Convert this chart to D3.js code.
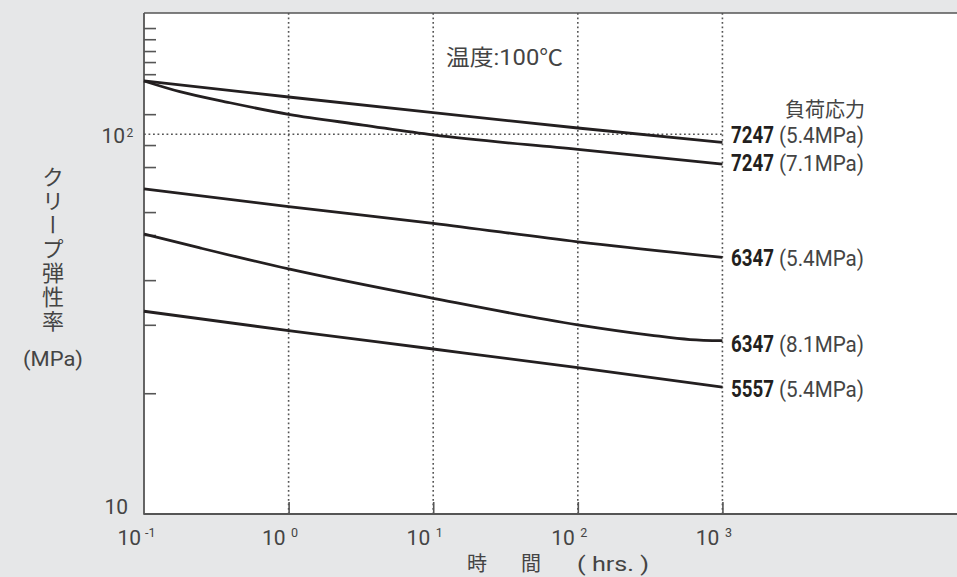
<!DOCTYPE html>
<html>
<head>
<meta charset="utf-8">
<script src="https://cdn.jsdelivr.net/npm/d3@7/dist/d3.min.js"></script>
<style>
  html, body { margin: 0; padding: 0; background: #e6e7e8; }
  svg { display: block; }
  text { font-family: Roboto, "Noto Sans CJK JP", sans-serif; fill: #444; }
  .cjk { font-family: "Noto Sans CJK JP", sans-serif; }
</style>
</head>
<body>
<svg id="chart" width="957" height="577"></svg>
<script>
// Creep modulus vs. time at 100°C, log-log
const hoursStraight = [0.1, 1, 10, 100, 1000];
const modulus7247at54 = [138.2, 125.4, 114.0, 103.9, 95.2];

const hours7247at71 = [0.1, 0.177, 0.393, 1, 3.27, 10, 100, 1000];
const modulus7247at71 = [138.2, 129.5, 121.1, 112.9, 105.8, 99.6, 91.3, 83.5];

const modulus6347at54 = [71.8, 64.5, 58.3, 52.1, 47.4];

const hours6347at81 = [0.1, 0.244, 1, 10, 100, 316, 597, 1000];
const modulus6347at81 = [54.6, 50.2, 44.2, 37.0, 31.5, 29.6, 28.8, 28.6];

const modulus5557at54 = [34.2, 30.4, 27.2, 24.3, 21.6];

const grades = ["7247", "7247", "6347", "6347", "5557"];
const stresses = ["(5.4MPa)", "(7.1MPa)", "(5.4MPa)", "(8.1MPa)", "(5.4MPa)"];

const xTickValues = [0.1, 1, 10, 100, 1000];
const yMinorTicks = [20.8, 31.5, 41.3, 54.3, 62.4, 82, 93.7, 113, 144, 155, 165.7, 178, 190.5];

// ---- layout ----
const plotLeft = 144, plotRight = 957, plotTop = 13, plotBottom = 514;
const labelNudge = [1, 7, 8.5, 11, 10];

const x = d3.scaleLog().domain([0.1, 41900]).range([plotLeft, plotRight]);
const y = d3.scaleLog().domain([10, 208.7]).range([plotBottom, plotTop]);

const svg = d3.select("#chart");

// plot area
svg.append("rect").attr("x", plotLeft).attr("y", plotTop)
  .attr("width", plotRight - plotLeft).attr("height", plotBottom - plotTop).attr("fill", "#fff");

// dotted grid
const grid = svg.append("g").attr("stroke", "#555").attr("stroke-width", 1.6)
  .attr("stroke-dasharray", "1.8,2.7").attr("fill", "none");
[1, 10, 100, 1000].forEach(t => {
  grid.append("line").attr("x1", x(t)).attr("x2", x(t)).attr("y1", plotTop).attr("y2", plotBottom);
});
grid.append("line").attr("x1", plotLeft).attr("x2", x(1000)).attr("y1", y(100)).attr("y2", y(100));

// ticks
const yAxis = svg.append("g").attr("transform", `translate(${plotLeft},0)`)
  .call(d3.axisRight(y).tickValues(yMinorTicks).tickSize(12).tickFormat(""));
yAxis.select(".domain").remove();
yAxis.selectAll(".tick line").attr("stroke", "#555").attr("stroke-width", 1.6);

const xAxis = svg.append("g").attr("transform", `translate(0,${plotBottom})`)
  .call(d3.axisTop(x).tickValues(xTickValues.slice(1)).tickSize(12).tickFormat(""));
xAxis.select(".domain").remove();
xAxis.selectAll(".tick line").attr("stroke", "#555").attr("stroke-width", 1.6);

// frame
const frame = svg.append("g").attr("stroke", "#555").attr("fill", "none");
frame.append("line").attr("x1", plotLeft).attr("x2", plotRight).attr("y1", plotTop).attr("y2", plotTop).attr("stroke-width", 1.4);
frame.append("line").attr("x1", plotLeft).attr("x2", plotLeft).attr("y1", plotTop).attr("y2", plotBottom + 0.8).attr("stroke-width", 1.8);
frame.append("line").attr("x1", plotLeft).attr("x2", plotRight).attr("y1", plotBottom).attr("y2", plotBottom).attr("stroke-width", 1.8);

// curves
const curves = [
  [hoursStraight, modulus7247at54],
  [hours7247at71, modulus7247at71],
  [hoursStraight, modulus6347at54],
  [hours6347at81, modulus6347at81],
  [hoursStraight, modulus5557at54]
];
const line = d3.line().x(d => x(d[0])).y(d => y(d[1])).curve(d3.curveMonotoneX);
curves.forEach(([hs, vs]) => {
  svg.append("path").datum(hs.map((h, i) => [h, vs[i]]))
    .attr("d", line).attr("fill", "none").attr("stroke", "#231f20").attr("stroke-width", 2.8);
});

// series labels
curves.forEach(([hs, vs], i) => {
  const yy = y(vs[vs.length - 1]) + labelNudge[i];
  svg.append("text").attr("x", 731).attr("y", yy)
    .attr("font-size", 23).attr("font-weight", 700).style("fill", "#231f20")
    .attr("textLength", 43).attr("lengthAdjust", "spacingAndGlyphs")
    .text(grades[i]);
  svg.append("text").attr("x", 779).attr("y", yy)
    .attr("font-size", 22)
    .attr("textLength", 85).attr("lengthAdjust", "spacingAndGlyphs")
    .text(stresses[i]);
});
svg.append("text").attr("class", "cjk").attr("x", 785).attr("y", 117)
  .attr("font-size", 20).text("負荷応力");

// temperature note
svg.append("text").attr("x", 446).attr("y", 65).attr("font-size", 22)
  .attr("textLength", 117).attr("lengthAdjust", "spacingAndGlyphs")
  .text("温度:100℃");

// y tick labels
svg.append("text").attr("x", 128).attr("y", y(10)).attr("text-anchor", "end")
  .attr("font-size", 21).text("10");
svg.append("text").attr("x", 125).attr("y", y(100) + 9).attr("text-anchor", "end")
  .attr("font-size", 21).text("10");
svg.append("text").attr("x", 126.5).attr("y", y(100) + 3).attr("font-size", 12).text("2");

// x tick labels
xTickValues.forEach(t => {
  const e = Math.round(Math.log10(t));
  svg.append("text").attr("x", x(t) - 3).attr("y", 545).attr("text-anchor", "end")
    .attr("font-size", 21).text("10");
  svg.append("text").attr("x", x(t) + (e < 0 ? 1 : 2.5)).attr("y", 537)
    .attr("font-size", 12.5).text(String(e));
});

// axis titles
svg.append("text").attr("class", "cjk").attr("x", 467).attr("y", 571).attr("font-size", 20).text("時");
svg.append("text").attr("class", "cjk").attr("x", 521).attr("y", 571).attr("font-size", 20).text("間");
svg.append("text").attr("x", 577).attr("y", 571).attr("font-size", 20)
  .attr("textLength", 72).attr("lengthAdjust", "spacingAndGlyphs").text("( hrs. )");

svg.append("text").attr("class", "cjk")
  .attr("x", 53).attr("y", 166)
  .style("writing-mode", "vertical-rl")
  .style("letter-spacing", "2px")
  .attr("font-size", 22).text("クリープ弾性率");
svg.append("text").attr("x", 53).attr("y", 366)
  .attr("text-anchor", "middle").attr("font-size", 21)
  .attr("textLength", 60).attr("lengthAdjust", "spacingAndGlyphs").text("(MPa)");
</script>
</body>
</html>
